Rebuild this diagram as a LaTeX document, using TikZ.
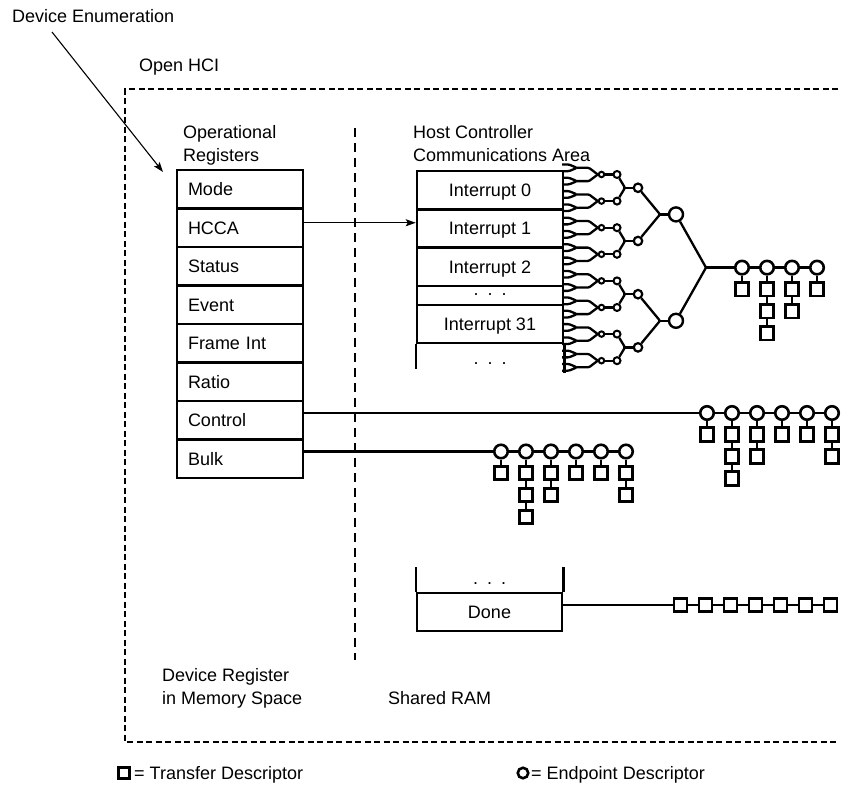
\documentclass[tikz,border=0pt]{standalone}
\usepackage{fontspec}
\setmainfont{Liberation Sans}
\usetikzlibrary{arrows.meta}
\newcommand\edchain[3]{%
  \foreach \x/\n [count=\k] in {#3} {
    \node[ed] (#1\k) at (\x,#2) {};
    \foreach \t in {1,...,\n} {
      \ifnum\t=1 \edef\pn{#1\k}\else\pgfmathtruncatemacro\pt{\t-1}\edef\pn{#1\k-\pt}\fi
      \node[td] (#1\k-\t) at (\x,{#2+21.5+(\t-1)*22}) {};
      \draw[conn] (\pn) -- (#1\k-\t);
    }
    \ifnum\k>1 \pgfmathtruncatemacro\pk{\k-1}\draw[conn] (#1\pk) -- (#1\k);\fi
  }
}
\begin{document}
\begin{tikzpicture}[x=1pt,y=-1pt,
  every node/.style={font=\fontsize{18}{23}\selectfont},
  txt/.style={anchor=base west, inner sep=0pt},
  cell/.style={draw, line width=2.5pt, inner ysep=0pt, text height=12.9pt, text depth=0pt},
  reg/.style={cell, minimum height=38.5pt, text width=104pt, inner xsep=11pt, align=left},
  icell/.style={cell, minimum width=146pt, inner xsep=0pt},
  conn/.style={line width=2.5pt},
  tree/.style={line width=2.3pt, line join=round, rounded corners=1.2pt},
  thin/.style={line width=1.1pt, -{Stealth[length=10pt,width=7pt,inset=2pt]}},
  ed/.style={circle, draw, line width=2.6pt, minimum size=13.5pt, inner sep=0pt, fill=white},
  td/.style={rectangle, draw, line width=2.6pt, minimum width=13pt, minimum height=13.5pt, inner sep=0pt, fill=white},
  eA/.style={circle, draw, line width=2pt, minimum size=5.5pt, inner sep=0pt},
  eB/.style={circle, draw, line width=2pt, minimum size=7pt, inner sep=0pt},
  eC/.style={circle, draw, line width=2.2pt, minimum size=8.5pt, inner sep=0pt},
  eD/.style={circle, draw, line width=2.4pt, minimum size=14pt, inner sep=0pt},
  dots/.style={anchor=base, inner sep=0pt}
]
\useasboundingbox (0,0) rectangle (850,788);

% frame (open on the right) and separator
\draw[line width=2.4pt, dash pattern=on 6pt off 3.5pt] (838,89) -- (125,89) -- (125,742) -- (838,742);
\draw[line width=2.2pt, dash pattern=on 8.5pt off 6.5pt] (355,128) -- (355,660);

% labels
\node[txt] (de) at (12,22.5) {Device Enumeration};
\node[txt] (ohci) at (139,71) {Open HCI};
\node[txt] (op1) at (183,138) {Operational};
\node[txt] (op2) at (183,161) {Registers};
\node[txt] (hct1) at (413,138) {Host Controller};
\node[txt] (hct2) at (413,161) {Communications Area};
\node[txt] (dr1) at (162,681) {Device Register};
\node[txt] (dr2) at (162,704) {in Memory Space};
\node[txt] (sr) at (388,704) {Shared RAM};

% operational registers
\foreach \name/\lab [count=\i from 0] in {mode/Mode,hcca/HCCA,status/Status,event/Event,frame/Frame Int,ratio/Ratio,ctrl/Control,bulk/Bulk}
  \node[reg] (\name) at (240,{170+38.5*(\i+0.5)}) {\lab};

% device enumeration arrow
\coordinate (destart) at (52,32);
\coordinate (deend) at (163,172);
\draw[thin] (destart) -- (deend);

% HCCA table
\node[icell, minimum height=38.3pt] (int0) at (490,190.15) {Interrupt 0};
\node[icell, minimum height=38.3pt] (int1) at (490,228.45) {Interrupt 1};
\node[icell, minimum height=38.3pt] (int2) at (490,266.75) {Interrupt 2};
\node[icell, minimum height=19pt, text height=0pt] (intd) at (490,295.4) {};
\node[icell, minimum height=38.3pt] (int31) at (490,324.05) {Interrupt 31};
\node[dots] (intdots) at (490,295) {.\,\,\,.\,\,\,.};
\node[dots] (intdots2) at (490,364) {.\,\,\,.\,\,\,.};
\draw[line width=2.5pt] (int31.south west) -- ++(0,25);
\draw[line width=2.5pt] (int31.south east) -- ++(0,29);

% HCCA arrow
\coordinate (hccaout) at ([yshift=5pt]hcca.east);
\draw[thin] (hccaout) -- (hccaout -| int1.west);

% interrupt tree
\foreach \i in {0,...,7}{
  \pgfmathsetmacro\g{164.5+(4*\i+1.5)*6.65}
  \node[eA] (eA\i) at (601.5,\g) {};
  \node[eB] (eB\i) at (617,\g) {};
  \draw[tree] (eA\i) -- (eB\i);
  \foreach \s in {-1,1}{
    \pgfmathsetmacro\m{\g+\s*6.65}
    \draw[tree] (562,\m-3.325) -- (569,\m-3.325) -- (577,\m) -- (569,\m+3.325) -- (562,\m+3.325);
    \draw[tree] (577,\m) -- (589,\m) -- (eA\i.west);
  }
}
\foreach \p in {0,...,3}{
  \pgfmathsetmacro\h{164.5+(8*\p+3.5)*6.65}
  \pgfmathtruncatemacro\a{2*\p}
  \pgfmathtruncatemacro\b{2*\p+1}
  \coordinate (mC\p) at (625,\h);
  \node[eC] (eC\p) at (638,\h) {};
  \draw[tree] (eB\a) -- (mC\p) -- (eB\b);
  \draw[tree] (mC\p) -- (eC\p);
}
\foreach \q in {0,1}{
  \pgfmathsetmacro\k{164.5+(16*\q+7.5)*6.65}
  \pgfmathtruncatemacro\a{2*\q}
  \pgfmathtruncatemacro\b{2*\q+1}
  \coordinate (mD\q) at (660,\k);
  \node[eD] (eD\q) at (676,\k) {};
  \draw[tree] (eC\a) -- (mD\q) -- (eC\b);
  \draw[tree] (mD\q) -- (eD\q);
}
\coordinate (mE) at (706,267.6);
\draw[tree] (eD0) -- (mE) -- (eD1);

% interrupt ED chain
\edchain{ic}{267.6}{742/1,767/3,792/2,817/1}
\draw[conn] (mE) -- (ic1);

% control chain
\edchain{cc}{413}{707/1,732/3,757/2,782/1,807/1,832/2}
\coordinate (ctrlout) at ([yshift=7.25pt]ctrl.east);
\draw[conn] (ctrlout) -- (cc1);

% bulk chain
\edchain{bc}{451.5}{501/1,526/3,551/2,576/1,601/1,626/2}
\coordinate (bulkout) at ([yshift=7.25pt]bulk.east);
\draw[conn] (bulkout) -- (bc1);

% done queue
\node[icell, minimum width=145pt, minimum height=38pt] (done) at (489.5,612) {Done};
\draw[line width=2.5pt] (done.north west) -- ++(0,-25);
\draw[line width=2.5pt] (done.north east) -- ++(0,-25);
\node[dots] (donedots) at (489.5,584.5) {.\,\,\,.\,\,\,.};
\foreach \j in {1,...,7}
  \node[td] (d\j) at ({655.5+25*\j},605) {};
\foreach \j [evaluate=\j as \pj using int(\j-1)] in {2,...,7}
  \draw[conn] (d\pj) -- (d\j);
\coordinate (doneout) at ([yshift=7pt]done.east);
\draw[conn] (doneout) -- (d1);

% legend
\node[td, minimum width=11pt, minimum height=11pt] (lgtd) at (124,773) {};
\node[txt] (lgtdt) at (134,779) {= Transfer Descriptor};
\node[ed, minimum size=10.5pt] (lged) at (523,773) {};
\node[txt] (lgedt) at (531,779) {= Endpoint Descriptor};
\end{tikzpicture}
\end{document}
